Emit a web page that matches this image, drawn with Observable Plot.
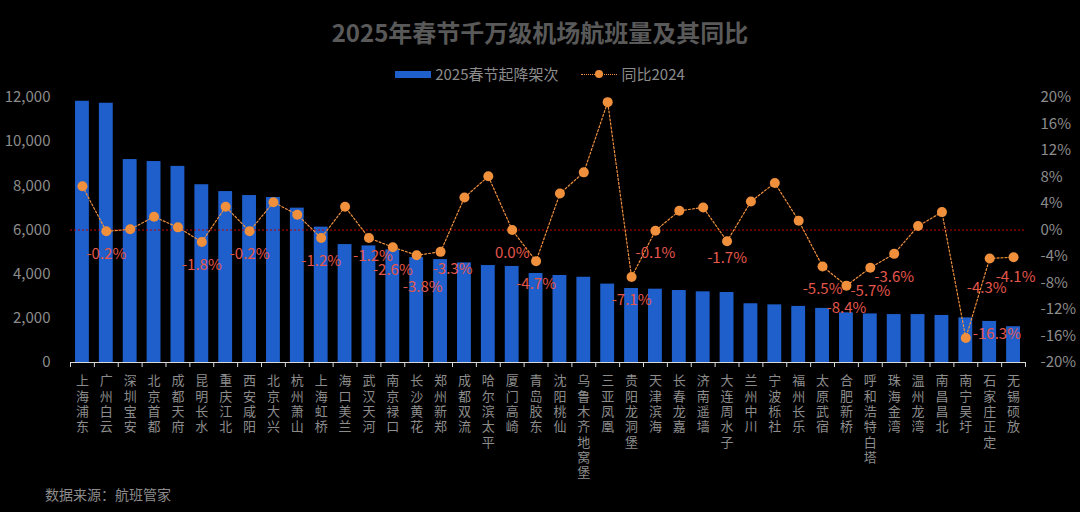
<!DOCTYPE html>
<html>
<head>
<meta charset="utf-8">
<script src="https://cdn.jsdelivr.net/npm/d3@7"></script>
<script src="https://cdn.jsdelivr.net/npm/@observablehq/plot@0.6"></script>
<style>
  html, body { margin: 0; padding: 0; background: #000; }
  body { width: 1080px; height: 512px; overflow: hidden; font-family: "Noto Sans CJK SC", "Noto Sans", sans-serif; }
  #header { height: 85px; position: relative; }
  #title { position: absolute; top: 19px; left: 0; width: 1080px; text-align: center; font-size: 24px; line-height: 26px; font-weight: bold; color: #595959; }
  #legend { position: absolute; top: 64px; left: 0; width: 1080px; display: flex; justify-content: center; align-items: center; font-size: 15px; line-height: 20px; color: #8c8c8c; }
  .sw-bar { width: 36px; height: 7px; background: #1f5fcc; margin-right: 4px; }
  .sw-line { position: relative; width: 36px; height: 10px; margin-left: 22px; margin-right: 5px; }
  .sw-line .l { position: absolute; top: 4.5px; left: 0; width: 36px; border-top: 1px dotted #f0903c; }
  .sw-line .d { position: absolute; top: 1px; left: 14px; width: 8px; height: 8px; border-radius: 50%; background: #f0903c; }
  #footer { height: 32px; padding-left: 45px; font-size: 14px; line-height: 28px; color: #8c8c8c; }
  #chart svg { display: block; overflow: visible; }
</style>
</head>
<body>
<div id="header">
  <div id="title">2025年春节千万级机场航班量及其同比</div>
  <div id="legend"><span class="sw-bar"></span><span>2025春节起降架次</span><span class="sw-line"><span class="l"></span><span class="d"></span></span><span>同比2024</span></div>
</div>
<div id="chart"></div>
<div id="footer">数据来源：航班管家</div>
<script>
const airports = ["上海浦东","广州白云","深圳宝安","北京首都","成都天府","昆明长水","重庆江北","西安咸阳","北京大兴","杭州萧山","上海虹桥","海口美兰","武汉天河","南京禄口","长沙黄花","郑州新郑","成都双流","哈尔滨太平","厦门高崎","青岛胶东","沈阳桃仙","乌鲁木齐地窝堡","三亚凤凰","贵阳龙洞堡","天津滨海","长春龙嘉","济南遥墙","大连周水子","兰州中川","宁波栎社","福州长乐","太原武宿","合肥新桥","呼和浩特白塔","珠海金湾","温州龙湾","南昌昌北","南宁吴圩","石家庄正定","无锡硕放"];
const flights = [11830,11740,9190,9100,8880,8050,7740,7560,7470,6990,6130,5340,5280,5100,4750,4660,4510,4390,4350,4030,3940,3860,3550,3350,3320,3260,3200,3170,2660,2610,2540,2450,2250,2200,2170,2170,2130,2020,1860,1620];
const yoy = [6.6,-0.2,0.1,2.0,0.4,-1.8,3.5,-0.2,4.2,2.3,-1.2,3.5,-1.2,-2.6,-3.8,-3.3,4.9,8.1,0.0,-4.7,5.5,8.7,19.3,-7.1,-0.1,2.9,3.4,-1.7,4.3,7.1,1.4,-5.5,-8.4,-5.7,-3.6,0.6,2.7,-16.3,-4.3,-4.1];
const leftTicks = [0,2000,4000,6000,8000,10000,12000];
const rightTicks = [-20,-16,-12,-8,-4,0,4,8,12,16,20];

const data = airports.map((name, i) => ({name, flights: flights[i], pct: yoy[i]}));
const yMax = 12000, pMin = -20, pMax = 20;
const toY = p => (p - pMin) / (pMax - pMin) * yMax;
const fromY = v => v / yMax * (pMax - pMin) + pMin;

const W = 1080, H = 395, ML = 70, MR = 55, MT = 12, MB = 118;
const step = (W - ML - MR) / airports.length;
const gray = "#8c8c8c";
const orange = "#f0903c";
const red = "#e4574b";
const fmtPct = d => `${d.pct.toFixed(1)}%`;

// label placement tweaks (pixel offsets, styling only)
const labelOffsets = {
  "武汉天河": [4, 18], "长沙黄花": [6, 32], "郑州新郑": [12, 17], "大连周水子": [0, 17],
  "石家庄正定": [-3, 30], "无锡硕放": [2, 20]
};
const negatives = data.filter(d => d.pct <= 0);
const labelMarks = [];
const defaults = negatives.filter(d => !(d.name in labelOffsets) && d.pct > -10);
labelMarks.push(Plot.text(defaults, {x: "name", y: d => toY(d.pct), text: fmtPct, dy: 23, fontSize: 15, fill: red}));
for (const d of negatives.filter(d => d.name in labelOffsets)) {
  const [dx, dy] = labelOffsets[d.name];
  labelMarks.push(Plot.text([d], {x: "name", y: d => toY(d.pct), text: fmtPct, dx, dy, fontSize: 15, fill: red}));
}
labelMarks.push(Plot.text(negatives.filter(d => d.pct <= -10), {x: "name", y: d => toY(d.pct), text: fmtPct, dx: 7, dy: -4, textAnchor: "start", fontSize: 15, fill: red}));

const chart = Plot.plot({
  width: W, height: H,
  marginLeft: ML, marginRight: MR, marginTop: MT, marginBottom: MB,
  style: {background: "transparent", color: gray, fontFamily: "'Noto Sans CJK SC', 'Noto Sans', sans-serif", overflow: "visible"},
  x: {type: "band", domain: airports, paddingInner: 0.42, paddingOuter: 0.21, axis: null, label: null},
  y: {domain: [0, yMax], axis: null, label: null},
  marks: [
    Plot.barY(data, {x: "name", y: "flights", fill: "#1f5fcc"}),
    Plot.ruleY([0], {stroke: "#d9d9d9", strokeWidth: 1.2}),
    Plot.axisX(airports, {tickSize: 5, dx: -step / 2, tickFormat: () => "", stroke: "#d9d9d9", label: null}),
    Plot.axisX([airports[airports.length - 1]], {tickSize: 5, dx: step / 2, tickFormat: () => "", stroke: "#d9d9d9", label: null}),
    Plot.text(airports, {x: d => d, y: 0, text: d => [...d].join("\n"), lineAnchor: "top", dy: 12, fontSize: 13, lineHeight: 15.3 / 13, fill: gray}),
    Plot.axisY(leftTicks, {anchor: "left", tickSize: 0, tickPadding: 20, fontSize: 15, fill: gray, tickFormat: d3.format(","), label: null}),
    Plot.axisY(rightTicks.map(toY), {anchor: "right", tickSize: 0, tickPadding: 15, fontSize: 15, fill: gray, tickFormat: v => `${Math.round(fromY(v))}%`, label: null}),
    Plot.ruleY([toY(0)], {stroke: "#c00000", strokeWidth: 1.2, strokeDasharray: "2,2"}),
    Plot.line(data, {x: "name", y: d => toY(d.pct), stroke: orange, strokeWidth: 1.2, strokeDasharray: "2,2"}),
    Plot.dot(data, {x: "name", y: d => toY(d.pct), r: 5, fill: orange, stroke: "none"}),
    ...labelMarks
  ]
});
document.getElementById("chart").appendChild(chart);
</script>
</body>
</html>
